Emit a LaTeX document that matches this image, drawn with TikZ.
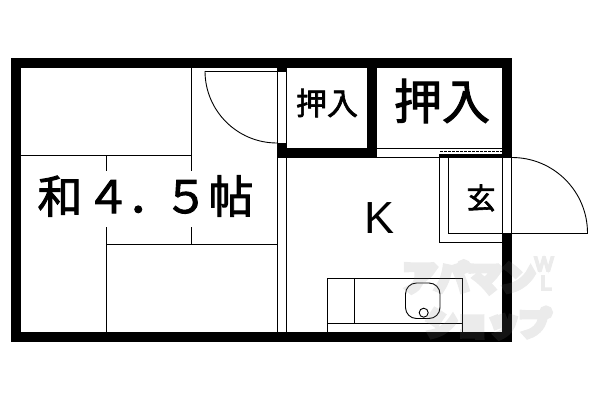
\documentclass[tikz,border=0pt]{standalone}
\usepackage{fontspec}
\newfontfamily\jpfont[FakeBold=2]{Noto Sans CJK JP}
\newfontfamily\shopfont[FakeBold=22]{Noto Sans CJK JP}
\newfontfamily\shoplat[FakeBold=10]{Liberation Sans}
\setmainfont{Liberation Sans}
\begin{document}
\begin{tikzpicture}[
x=1pt,y=-1pt,
wall/.style = {fill=black,draw=none},
ln/.style = {draw=black,line width=0.9pt},
lbl/.style = {inner sep=0pt,font=\jpfont},
shopmark/.style = {inner sep=0pt,text=black!50}
]
  \useasboundingbox (0,0) rectangle (600,400);

  % tatami
  \draw[ln] (21,155) -- (191,155);
  \draw[ln] (191,68) -- (191,244);
  \draw[ln] (106,155) -- (106,332);
  \draw[ln] (106,244) -- (277,244);
  \fill[white] (30,171) rectangle (260,227);
  \node[lbl,font=\jpfont\fontsize{45}{45}\selectfont] (room) at (145.5,196) {和\kern3pt ４\kern-3pt ．\kern-9pt ５\kern0pt 帖};

  % walls
  \fill[wall] (11,58) rectangle (512,68);
  \fill[wall] (11,58) rectangle (21,342);
  \fill[wall] (11,332) rectangle (512,342);
  \fill[wall] (502,58) rectangle (512,158);
  \fill[wall] (502,233) rectangle (512,342);
  \fill[wall] (367,58) rectangle (377,158);
  \fill[wall] (277,148) rectangle (377,158);
  \fill[wall] (277,143) rectangle (287,158);
  \fill[wall] (277,68) rectangle (287,72);
  \fill[wall] (439.5,154) rectangle (502,158);

  % partition
  \draw[ln] (277.5,71) -- (277.5,143);
  \draw[ln] (286.5,71) -- (286.5,143);
  \draw[ln] (277.5,158) -- (277.5,332);
  \draw[ln] (286.5,158) -- (286.5,332);

  % inner door
  \draw[ln] (205,71) -- (277,71);
  \draw[ln] (205,71) arc[start angle=180,end angle=90,radius=72];

  % window
  \draw[ln] (377,148.5) -- (502,148.5);
  \draw[ln,dash pattern=on 3pt off 1pt] (440,151.5) -- (502,151.5);
  \draw[ln] (287,157.5) -- (440,157.5);

  % entrance
  \draw[ln] (439.5,154) -- (439.5,242.5) -- (502,242.5);
  \draw[ln] (448.5,157) -- (448.5,233) -- (588,233);
  \draw[ln] (502.5,158) -- (502.5,233);
  \draw[ln] (511.5,158) -- (511.5,233);
  \draw[ln] (512,157.5) arc[start angle=270,end angle=360,radius=75.5];

  % kitchen
  \draw[ln] (327.5,332) -- (327.5,278.5) -- (462.5,278.5) -- (462.5,332);
  \draw[ln] (327.5,323.5) -- (462.5,323.5);
  \draw[ln] (354.5,278.5) -- (354.5,323.5);
  \draw[ln,rounded corners=11pt] (405.5,283) rectangle (440,318.5);
  \node[ln,circle,inner sep=0pt,minimum size=9pt,fill=white] (tap) at (423.7,312.7) {};

  % labels
  \node[lbl,font=\jpfont\fontsize{31}{31}\selectfont] (closet1) at (327,103) {押入};
  \node[lbl,font=\jpfont\fontsize{48}{48}\selectfont] (closet2) at (442,101) {押入};
  \node[lbl,font=\jpfont\fontsize{29}{29}\selectfont] (genkan) at (481,198) {玄};
  \node[lbl,font=\fontsize{45}{45}\selectfont] (kitchen) at (380,218) {K};

  % shop mark
  \begin{scope}[transparency group,opacity=0.16]
  \node[shopmark,font=\shopfont\fontsize{33}{33}\selectfont] (shop1) at (469,277) {アパマン};
  \node[shopmark,font=\shopfont\fontsize{31}{31}\selectfont] (shop2) at (488,323) {ショップ};
  \node[shopmark,font=\shoplat\fontsize{20}{20}\selectfont] (shop3) at (544,264) {W};
  \node[shopmark,font=\shoplat\fontsize{20}{20}\selectfont] (shop4) at (546,283) {L};
  \end{scope}
\end{tikzpicture}
\end{document}
